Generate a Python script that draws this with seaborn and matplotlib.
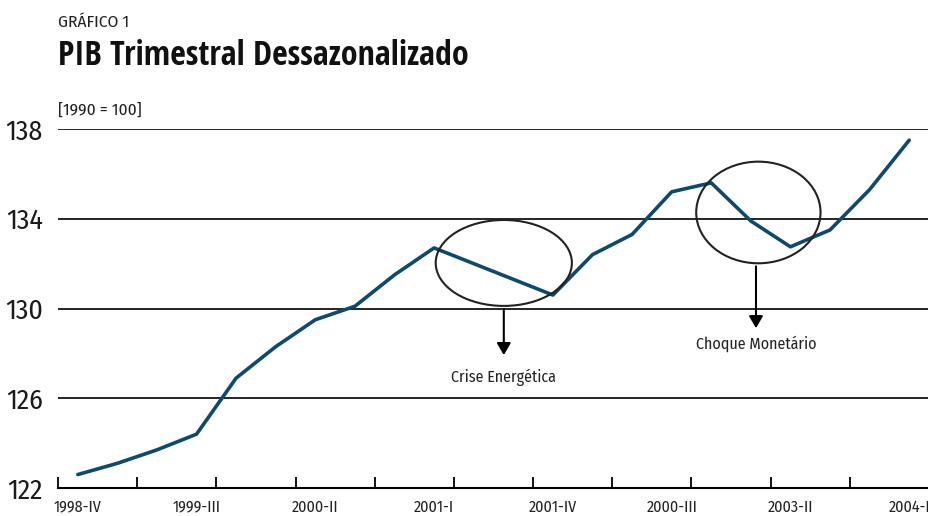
import matplotlib
matplotlib.use("Agg")
import matplotlib.pyplot as plt
from matplotlib.patches import Ellipse
import numpy as np
import pandas as pd
import seaborn as sns

# quarters 1998-IV .. 2004-I
quarters = ["1998-IV",
            "1999-I", "1999-II", "1999-III", "1999-IV",
            "2000-I", "2000-II", "2000-III", "2000-IV",
            "2001-I", "2001-II", "2001-III", "2001-IV",
            "2002-I", "2002-II", "2002-III", "2002-IV",
            "2003-I", "2003-II", "2003-III", "2003-IV",
            "2004-I"]
pib = [122.6, 123.1, 123.7, 124.4, 126.9, 128.3, 129.5, 130.1, 131.5, 132.7, 132.0,
       131.3, 130.6, 132.4, 133.3, 135.2, 135.6, 133.9, 132.75, 133.5, 135.3, 137.5]
tick_labels = ["1998-IV", "1999-III", "2000-II", "2001-I", "2001-IV", "2000-III", "2003-II", "2004-I"]
yticks = [122, 126, 130, 134, 138]

df = pd.DataFrame({"idx": np.arange(len(quarters)), "pib": pib})

sns.set_theme(style="white")
plt.rcParams["font.family"] = ["Fira Sans Condensed", "Open Sans", "DejaVu Sans"]

fig = plt.figure(figsize=(9.29, 5.16), dpi=100)
ax = fig.add_axes([58 / 929, 28 / 516, 871 / 929, 359 / 516])

for y in yticks[1:]:
    ax.axhline(y, color="black", lw=1.2, zorder=1)

sns.lineplot(data=df, x="idx", y="pib", color="#0e4a6c", lw=2.6, ax=ax, zorder=3)

ax.set_xlim(-0.5, 21.5)
ax.set_ylim(122, 138)
for s in ["left", "right", "top"]:
    ax.spines[s].set_visible(False)
ax.spines["bottom"].set_color("black")
ax.spines["bottom"].set_linewidth(1.5)

ax.set_xticks(np.arange(-0.5, 21.6, 2))
ax.set_xticklabels([])
ax.tick_params(axis="x", which="major", direction="in", length=8, width=1.3, color="black", bottom=True)
ax.set_xticks(np.arange(0, 22, 3), minor=True)
ax.set_xticklabels(tick_labels, minor=True, fontsize=11.5, color="#222222")
ax.tick_params(axis="x", which="minor", length=0, pad=8)

ax.set_yticks(yticks)
ax.set_yticklabels([str(v) for v in yticks], fontsize=20, color="#1a1a1a")
ax.tick_params(axis="y", length=0, pad=11)
ax.set_xlabel("")
ax.set_ylabel("")

# annotations
ax.add_patch(Ellipse((10.76, 132.03), 3.44, 3.83, fill=False, ec="#222222", lw=1.5, zorder=4))
ax.add_patch(Ellipse((17.19, 134.28), 3.14, 4.53, fill=False, ec="#222222", lw=1.5, zorder=4))
ax.annotate("", xy=(10.76, 127.8), xytext=(10.76, 130.1),
            arrowprops=dict(arrowstyle="-|>,head_width=0.35,head_length=0.6", color="black", lw=1.5))
ax.annotate("", xy=(17.13, 129.0), xytext=(17.13, 132.0),
            arrowprops=dict(arrowstyle="-|>,head_width=0.35,head_length=0.6", color="black", lw=1.5))
ax.text(10.76, 126.95, "Crise Energética", ha="center", va="center", fontsize=11.5,
        color="#222222")
ax.text(17.13, 128.45, "Choque Monetário", ha="center", va="center", fontsize=11.5,
        color="#222222")

fig.text(58 / 929, 1 - 22 / 516, "GRÁFICO 1", ha="left", va="center", fontsize=12.5,
         color="#222222")
fig.text(58 / 929, 1 - 56 / 516, "PIB Trimestral Dessazonalizado", ha="left", va="center",
         fontsize=24.5, fontweight="bold", color="#111111",
         family=["Open Sans Condensed", "Fira Sans Condensed", "DejaVu Sans"])
fig.text(58 / 929, 1 - 110 / 516, "[1990 = 100]", ha="left", va="center", fontsize=12.5,
         color="#222222")

fig.savefig("out.png", dpi=100)
